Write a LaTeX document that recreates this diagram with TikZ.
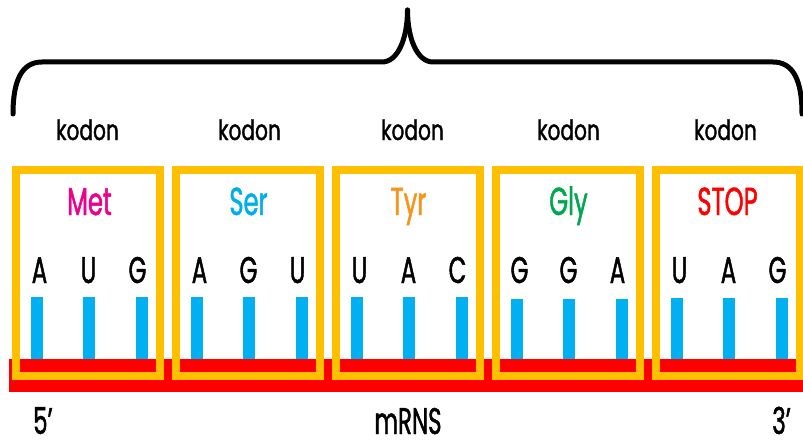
\documentclass[tikz,border=0pt]{standalone}
\usepackage{fontspec}
\setmainfont{Poppins}[FakeStretch=0.62,FakeBold=1.2]
\newfontfamily\kodonfont{Poppins}[FakeStretch=0.72,FakeBold=1.2]
\usepackage{xcolor}
\definecolor{boxyellow}{RGB}{255,192,0}
\definecolor{barblue}{RGB}{0,176,240}
\definecolor{rnared}{RGB}{255,0,0}
\definecolor{metcol}{RGB}{236,0,140}
\definecolor{sercol}{RGB}{0,174,239}
\definecolor{tyrcol}{RGB}{247,148,29}
\definecolor{glycol}{RGB}{0,166,81}
\definecolor{stopcol}{RGB}{255,0,0}
\tikzset{kodonbox/.style={draw=boxyellow,line width=8pt,minimum width=144pt,minimum height=206pt,inner sep=0pt}}
\tikzset{basebar/.style={fill=barblue,minimum width=12pt,minimum height=62pt,inner sep=0pt,anchor=south}}
\tikzset{baselabel/.style={font=\fontsize{37}{37}\selectfont,anchor=base,inner sep=0pt}}
\tikzset{aalabel/.style={font=\fontsize{39}{39}\selectfont,anchor=base,inner sep=0pt}}
\tikzset{kodonlabel/.style={font=\kodonfont\fontsize{28}{28}\selectfont,anchor=base,inner sep=0pt}}
\tikzset{bracket/.style={line width=5pt,line cap=round,line join=round}}

\begin{document}
\begin{tikzpicture}[x=1pt,y=1pt]
            \useasboundingbox (0,0) rectangle (803,440);
            % draw the strand
            \fill[rnared] (9,48) rectangle (810,81);
            % draw the bases (bars)
            \node[basebar] (b11) at (36.5,81) {};
            \node[basebar] (b12) at (88.5,81) {};
            \node[basebar] (b13) at (141.5,81) {};
            \node[basebar] (b21) at (196.5,81) {};
            \node[basebar] (b22) at (248.5,81) {};
            \node[basebar] (b23) at (301.5,81) {};
            \node[basebar] (b31) at (356.5,81) {};
            \node[basebar] (b32) at (408.5,81) {};
            \node[basebar] (b33) at (461.5,81) {};
            \node[basebar,minimum height=60pt] (b41) at (516.5,81) {};
            \node[basebar,minimum height=60pt] (b42) at (568.5,81) {};
            \node[basebar,minimum height=60pt] (b43) at (621.5,81) {};
            \node[basebar,minimum height=61pt] (b51) at (676.5,81) {};
            \node[basebar,minimum height=61pt] (b52) at (728.5,81) {};
            \node[basebar,minimum height=61pt] (b53) at (781.5,81) {};
            % draw the codon boxes
            \node[kodonbox] (k1) at (87.5,167) {};
            \node[kodonbox] (k2) at (247.5,167) {};
            \node[kodonbox] (k3) at (407.5,167) {};
            \node[kodonbox] (k4) at (567.5,167) {};
            \node[kodonbox] (k5) at (727.5,167) {};
            % bases
            \node[baselabel] (l11) at (39.5,157) {A};
            \node[baselabel] (l12) at (88.5,157) {U};
            \node[baselabel] (l13) at (137.5,157) {G};
            \node[baselabel] (l21) at (199.5,157) {A};
            \node[baselabel] (l22) at (248.5,157) {G};
            \node[baselabel] (l23) at (297.5,157) {U};
            \node[baselabel] (l31) at (359.5,157) {U};
            \node[baselabel] (l32) at (408.5,157) {A};
            \node[baselabel] (l33) at (457.5,157) {C};
            \node[baselabel] (l41) at (519.5,157) {G};
            \node[baselabel] (l42) at (568.5,157) {G};
            \node[baselabel] (l43) at (617.5,157) {A};
            \node[baselabel] (l51) at (679.5,157) {U};
            \node[baselabel] (l52) at (728.5,157) {A};
            \node[baselabel] (l53) at (777.5,157) {G};
            % amino acids
            \node[aalabel,text=metcol] (aa1) at (89.5,225) {Met};
            \node[aalabel,text=sercol] (aa2) at (248.5,225) {Ser};
            \node[aalabel,text=tyrcol] (aa3) at (408.5,225) {Tyr};
            \node[aalabel,text=glycol] (aa4) at (568.5,225) {Gly};
            \node[aalabel,text=stopcol] (aa5) at (727.5,225) {STOP};
            % codon labels
            \node[kodonlabel] (c1) at (87.5,300) {kodon};
            \node[kodonlabel] (c2) at (249.5,300) {kodon};
            \node[kodonlabel] (c3) at (412.5,300) {kodon};
            \node[kodonlabel] (c4) at (568.5,300) {kodon};
            \node[kodonlabel] (c5) at (725.5,300) {kodon};
            % draw the brace
            \draw[bracket] (13,326) .. controls (13,360) and (22,378) .. (42,378) -- (382,378)
                .. controls (398,378) and (407.5,402) .. (407.5,430);
            \draw[bracket] (802,326) .. controls (802,360) and (793,378) .. (773,378) -- (433,378)
                .. controls (417,378) and (407.5,402) .. (407.5,430);
            % ends and name
            \node[baselabel,anchor=base west] (p5) at (33,6) {5’};
            \node[baselabel] (rna) at (408,6) {mRNS};
            \node[baselabel,anchor=base east] (p3) at (791,6) {3’};
        \end{tikzpicture}
\end{document}
